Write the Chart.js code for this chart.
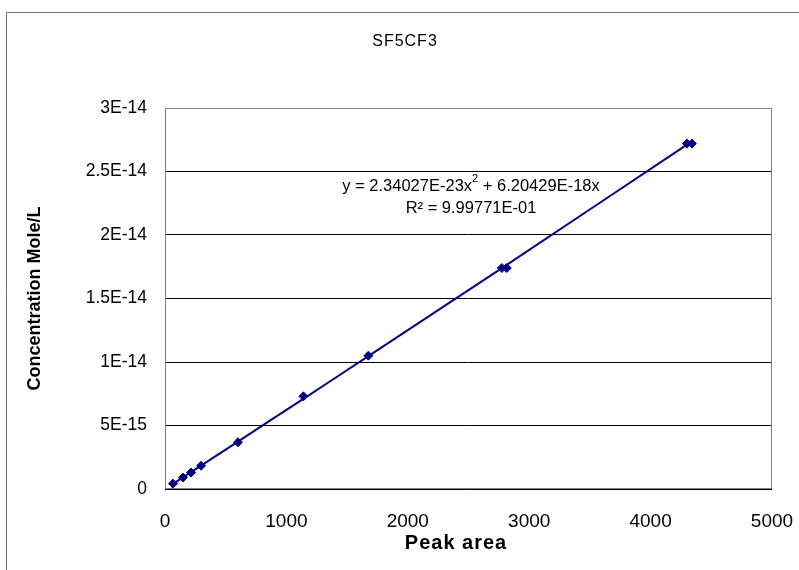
<!DOCTYPE html>
<html lang="en">
  <head>
    <meta charset="UTF-8" />
    <title>SF5CF3</title>
    <script src="https://cdn.jsdelivr.net/npm/chart.js"></script>
    <style>
      body {
        margin: 0;
        background: #ffffff;
      }
      #wrap {
        width: 799px;
        height: 570px;
      }
    </style>
  </head>
  <body>
    <div id="wrap">
      <canvas id="myChart" width="799" height="570"></canvas>
    </div>

    <script>
      // calibration points
      const peakArea = [66, 148, 214, 297, 601, 1140, 1675, 2775, 2815, 4300, 4340];
      const concentration = [
        4.2e-16, 9.0e-16, 1.3e-15, 1.83e-15, 3.68e-15, 7.3e-15, 1.05e-14,
        1.74e-14, 1.74e-14, 2.72e-14, 2.72e-14,
      ];

      // polynomial trendline y = a*x^2 + b*x
      const fitA = 2.34027e-23;
      const fitB = 6.20429e-18;
      const equationLines = ["y = 2.34027E-23x", "R² = 9.99771E-01"];

      const yTickLabels = ["0", "5E-15", "1E-14", "1.5E-14", "2E-14", "2.5E-14", "3E-14"];
      const xTickLabels = ["0", "1000", "2000", "3000", "4000", "5000"];

      const points = peakArea.map((x, i) => ({ x: x, y: concentration[i] }));
      const trend = peakArea.map((x) => ({ x: x, y: fitA * x * x + fitB * x }));

      const navy = "#000080";
      const family = "'Liberation Sans', Arial, sans-serif";

      // frame, plot border, titles and equation text
      const decorations = {
        id: "decorations",
        beforeDatasetsDraw(chart) {
          const c = chart.ctx;
          const a = chart.chartArea;
          c.save();
          c.strokeStyle = "#808080";
          c.lineWidth = 1;
          c.strokeRect(Math.round(a.left) + 0.5, Math.round(a.top) + 0.5,
            Math.round(a.right - a.left) - 1, Math.round(a.bottom - a.top) - 1);
          c.restore();
        },
        afterDraw(chart) {
          const c = chart.ctx;
          c.save();
          c.strokeStyle = "#7a7a7a";
          c.lineWidth = 1;
          c.beginPath();
          c.moveTo(6.5, 570);
          c.lineTo(6.5, 12.5);
          c.lineTo(799, 12.5);
          c.stroke();

          c.fillStyle = "#000000";
          c.textAlign = "center";
          c.textBaseline = "middle";
          c.font = "16px " + family;
          c.letterSpacing = "1px";
          c.fillText("SF5CF3", 405, 42);

          // x axis title
          c.font = "bold 20px " + family;
          c.fillText("Peak area", 456, 543);
          c.letterSpacing = "0px";

          // equation, with superscript 2
          const line1 = equationLines[0];
          const sup = "2";
          const tail = " + 6.20429E-18x";
          const cx = 471;
          const y1 = 186;
          const big = "16.5px " + family;
          const small = "11px " + family;
          c.font = big;
          const w1 = c.measureText(line1).width;
          const w3 = c.measureText(tail).width;
          c.font = small;
          const w2 = c.measureText(sup).width;
          const x0 = cx - (w1 + w2 + w3) / 2;
          c.textAlign = "left";
          c.font = big;
          c.fillText(line1, x0, y1);
          c.font = small;
          c.fillText(sup, x0 + w1, y1 - 7);
          c.font = big;
          c.fillText(tail, x0 + w1 + w2, y1);
          c.textAlign = "center";
          c.fillText(equationLines[1], cx, 208);
          c.restore();
        },
      };

      const ctx = document.getElementById("myChart");

      const myChart = new Chart(ctx, {
        type: "scatter",
        data: {
          datasets: [
            {
              label: "Poly. trend",
              data: trend,
              showLine: true,
              borderColor: navy,
              borderWidth: 2,
              pointRadius: 0,
              tension: 0.3,
            },
            {
              label: "SF5CF3",
              data: points,
              pointStyle: "rectRot",
              pointRadius: 4.5,
              backgroundColor: navy,
              borderColor: navy,
              borderWidth: 1,
            },
          ],
        },
        plugins: [decorations],
        options: {
          responsive: false,
          animation: false,
          layout: {
            padding: { top: 108, right: 27, bottom: 0, left: 0 },
          },
          plugins: {
            legend: { display: false },
            tooltip: { enabled: false },
          },
          scales: {
            x: {
              type: "linear",
              min: 0,
              max: 5000,
              ticks: {
                stepSize: 1000,
                padding: 21,
                color: "#000000",
                font: { family: family, size: 19 },
                callback: (v, i) => xTickLabels[i],
              },
              grid: { display: false, drawTicks: false },
              border: { display: false },
              afterFit(scale) {
                scale.height = 81;
                scale.paddingRight = 20;
              },
            },
            y: {
              type: "linear",
              min: 0,
              max: 3e-14,
              ticks: {
                stepSize: 5e-15,
                padding: 18,
                color: "#000000",
                font: { family: family, size: 17.5 },
                callback: (v, i) => yTickLabels[i],
              },
              grid: { color: "#000000", lineWidth: 1, drawTicks: false },
              border: { display: false },
              title: {
                display: true,
                text: "Concentration Mole/L",
                color: "#000000",
                font: { family: family, size: 18, weight: "bold" },
                padding: { top: 24, bottom: 0 },
              },
              afterFit(scale) {
                scale.width = 165;
              },
            },
          },
        },
      });
    </script>
  </body>
</html>
